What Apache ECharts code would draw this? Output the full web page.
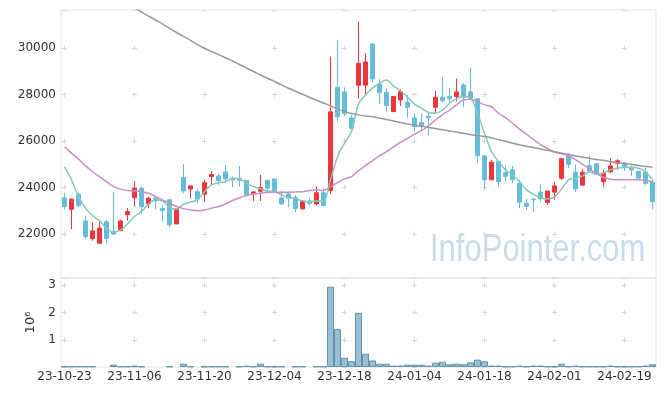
<!DOCTYPE html>
<html><head><meta charset="utf-8">
<script src="https://cdn.jsdelivr.net/npm/echarts@6/dist/echarts.min.js"></script>
<style>html,body{margin:0;padding:0;background:#fff}#c{width:665px;height:396px}</style>
</head><body><div id="c"></div>
<script>
const dates = ['23-10-23','23-10-24','23-10-25','23-10-26','23-10-27','23-10-30','23-10-31','23-11-01','23-11-02','23-11-03',
'23-11-06','23-11-07','23-11-08','23-11-09','23-11-10','23-11-13','23-11-14','23-11-15','23-11-16','23-11-17',
'23-11-20','23-11-21','23-11-22','23-11-23','23-11-24','23-11-27','23-11-28','23-11-29','23-11-30','23-12-01',
'23-12-04','23-12-05','23-12-06','23-12-07','23-12-08','23-12-11','23-12-12','23-12-13','23-12-14','23-12-15',
'23-12-18','23-12-19','23-12-20','23-12-21','23-12-22','23-12-26','23-12-27','23-12-28','24-01-02','24-01-03',
'24-01-04','24-01-05','24-01-08','24-01-09','24-01-10','24-01-11','24-01-12','24-01-15','24-01-16','24-01-17',
'24-01-18','24-01-19','24-01-22','24-01-23','24-01-24','24-01-25','24-01-26','24-01-29','24-01-30','24-01-31',
'24-02-01','24-02-02','24-02-05','24-02-06','24-02-07','24-02-08','24-02-13','24-02-14','24-02-15','24-02-16',
'24-02-19','24-02-20','24-02-21','24-02-22','24-02-23'];
const opens = [23550,23060,23710,22560,21800,21600,22520,22100,22140,22830,23560,23970,23290,23550,23090,23470,22430,24430,23940,23820,
23710,24470,24500,24670,24400,24400,24310,23720,23840,24310,24370,23550,23720,23580,23080,23420,23290,23770,23870,28320,
28120,27000,28410,28410,30190,28460,28100,27270,27770,27670,27000,26810,27070,27460,27890,27920,27920,28420,28120,27820,
25370,24330,25130,24640,24760,24180,23320,23500,23800,23350,23800,24400,25360,24660,24100,24940,25020,24250,24680,25050,
25050,24830,24700,24660,24230];
const closes = [23180,23500,23220,21880,22130,22250,21800,21990,22560,22960,23970,23180,23540,23420,23000,22390,23080,23850,24070,23500,
24210,24560,24300,24370,24330,24300,23680,23810,24000,23970,23810,23290,23540,23090,23420,23320,23770,23220,27260,27050,
27180,26550,29350,29410,28680,28090,27530,27920,28130,27460,26620,26670,27010,27890,27740,27820,28120,27870,27850,25370,
24330,25090,24250,24470,24330,23370,23180,23470,23510,23850,24070,25240,25000,23940,24660,24730,24590,24620,24930,25150,
24900,24760,24400,24180,23390];
const lows = [23060,22200,23150,21800,21710,21600,21600,21990,22140,22570,23180,22850,23110,23060,22530,22270,22430,23750,23540,23320,
23370,24110,24110,24250,24010,24040,23610,23420,23420,23750,23800,23250,23150,22940,23050,23220,23250,23220,23710,26840,
27080,26510,27830,27990,28540,27590,27240,27270,27510,27010,26410,26480,26240,27200,27660,27630,27700,27460,27770,25050,
23900,24330,24040,24250,24180,23110,23030,22940,23390,23240,23470,24330,24830,23820,24100,24620,24580,24010,24620,24760,
24710,24500,24400,24110,23060];
const highs = [23780,23520,23780,22780,22490,22530,22600,23820,22600,23110,24280,24070,23600,23600,23250,23510,23080,25020,24070,23940,
24330,24710,24600,24970,24470,24930,24310,23830,24540,24310,24370,23850,23830,23670,23460,23550,24040,23970,29640,30360,
28320,27130,31150,29790,30190,28680,28280,27950,28230,27990,27200,27200,27200,28160,28780,28300,28690,28490,29180,27820,
25370,25190,25130,24930,24930,24330,23510,23560,24140,23850,24250,25260,25480,25000,24800,25370,25020,24760,25260,25220,
25100,24940,24700,24830,24330];
const volumes = [20000,20000,20000,20000,20000,null,null,85000,20000,20000,50000,20000,null,null,null,20000,null,120000,20000,null,
20000,20000,20000,20000,null,20000,50000,20000,120000,20000,20000,20000,null,20000,20000,null,20000,20000,2950000,1400000,
340000,210000,1990000,490000,240000,120000,120000,50000,50000,85000,85000,85000,50000,160000,195000,100000,120000,100000,170000,270000,
210000,50000,50000,15000,20000,50000,20000,50000,50000,20000,20000,120000,20000,50000,20000,20000,20000,20000,50000,20000,
20000,20000,20000,50000,100000];
const ma5 = [24900,24330,23610,23110,22780,22570,22250,22070,22170,22430,22750,22960,23290,23470,23420,23150,23060,23280,23370,23470,
23820,24110,24210,24250,24400,24370,24180,24040,23940,23850,23820,23680,23580,23510,23420,23390,23420,23390,24330,25330,
25910,26410,27600,27990,28280,28490,28630,28380,28170,27890,27590,27420,27230,27200,27340,27630,27820,27920,27870,27200,
26340,25550,25120,24760,24540,24250,23900,23710,23560,23500,23610,23930,24330,24400,24500,24680,24570,24620,24760,24830,
24860,24870,24830,24680,24330];
const ma20 = [25760,25480,25220,24940,24680,24470,24250,24040,23930,23870,23850,23820,23750,23610,23470,23320,23180,23090,23030,23000,
23030,23110,23180,23290,23440,23560,23650,23720,23750,23800,23800,23800,23800,23810,23820,23870,23900,23870,24040,24210,
24370,24470,24730,24940,25160,25360,25550,25750,25950,26120,26300,26450,26650,26910,27130,27330,27560,27770,27800,27700,
27560,27480,27200,27010,26770,26520,26300,26060,25850,25680,25530,25450,25370,25200,25000,24810,24600,24440,24360,24330,
24330,24330,24330,24310,24250];
const ma60 = [33550,33370,33190,33010,32830,32650,32470,32290,32110,31930,31750,31560,31390,31220,31050,30860,30680,30510,30340,30160,
30000,29860,29730,29590,29450,29300,29150,29000,28850,28710,28570,28420,28280,28150,28020,27890,27760,27640,27520,27390,
27270,27190,27130,27080,27050,26990,26930,26870,26800,26740,26690,26640,26590,26540,26490,26440,26390,26340,26280,26230,
26200,26140,26060,25990,25910,25840,25780,25720,25660,25600,25540,25480,25420,25360,25310,25260,25210,25170,25120,25070,
25030,24990,24950,24910,24870];

const PMIN = 20100, PMAX = 31650, PSTEP = 2000;
const VMAX = 3270000, VSTEP = 1000000;
const G1 = {left: 61, top: 10, width: 595, height: 268};
const G2 = {left: 61, top: 278, width: 595, height: 89};
const CROSS = 5, LBL_EVERY = 10;
const crossColor = '#d8d8d8';

const catW = G1.width / dates.length;
const hPeriod = catW * LBL_EVERY;
const hOffset = ((hPeriod - ((catW / 2 - CROSS / 2) % hPeriod)) + hPeriod) % hPeriod;
function vDash(g, min, max, step) {
  const P = step / (max - min) * g.height;
  const firstTick = Math.ceil(min / step) * step;
  const yT = g.top + (max - firstTick) / (max - min) * g.height;
  const start = yT - CROSS / 2 - g.top;
  const m = ((start % P) + P) % P;
  return {type: [CROSS, P - CROSS], dashOffset: (P - m) % P};
}
const v1 = vDash(G1, PMIN, PMAX, PSTEP);
const v2 = vDash(G2, 0, VMAX, VSTEP);

const candleData = dates.map((d, i) => [opens[i], closes[i], lows[i], highs[i]]);
const labelStyle = {color: '#333', fontSize: 12, fontFamily: 'DejaVu Sans'};

const chart = echarts.init(document.getElementById('c'));
chart.setOption({
  animation: false,
  backgroundColor: '#fff',
  grid: [
    Object.assign({show: true, borderColor: '#e4e4e4', borderWidth: 1}, G1),
    Object.assign({show: true, borderColor: '#e4e4e4', borderWidth: 1}, G2)
  ],
  xAxis: [
    {type: 'category', gridIndex: 0, data: dates, boundaryGap: true,
     axisLine: {show: false}, axisTick: {show: false}, axisLabel: {show: false},
     splitLine: {show: true, interval: LBL_EVERY - 1, alignWithLabel: true,
       lineStyle: {color: crossColor, width: 1, type: v1.type, dashOffset: v1.dashOffset}}},
    {type: 'category', gridIndex: 1, data: dates, boundaryGap: true,
     axisLine: {show: false}, axisTick: {show: false},
     axisLabel: Object.assign({interval: LBL_EVERY - 1, margin: 4}, labelStyle),
     splitLine: {show: true, interval: LBL_EVERY - 1, alignWithLabel: true,
       lineStyle: {color: crossColor, width: 1, type: v2.type, dashOffset: v2.dashOffset}}}
  ],
  yAxis: [
    {type: 'value', gridIndex: 0, min: PMIN, max: PMAX, scale: true,
     axisLine: {show: false}, axisTick: {show: false},
     axisLabel: Object.assign({margin: 5, showMinLabel: false, showMaxLabel: false,
       formatter: v => String(v)}, labelStyle),
     splitLine: {show: true, lineStyle: {color: crossColor, width: 1, type: [CROSS, hPeriod - CROSS], dashOffset: hOffset}}},
    {type: 'value', gridIndex: 1, min: 0, max: VMAX, interval: VSTEP,
     name: '10\u2076', nameLocation: 'middle', nameRotate: 90, nameGap: 24,
     nameTextStyle: {color: '#333', fontSize: 13, fontFamily: 'DejaVu Sans'},
     axisLine: {show: false}, axisTick: {show: false},
     axisLabel: Object.assign({margin: 5, showMinLabel: false, showMaxLabel: false,
       formatter: v => String(v / 1000000)}, labelStyle),
     splitLine: {show: true, lineStyle: {color: crossColor, width: 1, type: [CROSS, hPeriod - CROSS], dashOffset: hOffset}}}
  ],
  graphic: [{
    type: 'text', x: 430, y: 270, scaleY: 1.27, silent: true, z: 0,
    style: {text: 'InfoPointer.com', fill: '#cadde7', textVerticalAlign: 'bottom',
      font: '31px "Liberation Sans", Arial, sans-serif'}
  }],
  series: [
    {type: 'candlestick', name: 'price', xAxisIndex: 0, yAxisIndex: 0, data: candleData, barWidth: 5,
     itemStyle: {color: '#ea373c', color0: '#66bdd7', borderColor: '#ea373c', borderColor0: '#66bdd7', borderWidth: 1}},
    {type: 'line', name: 'MA5', xAxisIndex: 0, yAxisIndex: 0, data: ma5, smooth: 0.3, showSymbol: false,
     lineStyle: {color: '#86c8ba', width: 1.5}, z: 3},
    {type: 'line', name: 'MA20', xAxisIndex: 0, yAxisIndex: 0, data: ma20, smooth: 0.3, showSymbol: false,
     lineStyle: {color: '#c98fc4', width: 1.5}, z: 3},
    {type: 'line', name: 'MA60', xAxisIndex: 0, yAxisIndex: 0, data: ma60, smooth: 0.3, showSymbol: false,
     lineStyle: {color: '#999999', width: 1.5}, z: 3},
    {type: 'bar', name: 'volume', xAxisIndex: 1, yAxisIndex: 1, data: volumes, barCategoryGap: 0, barGap: 0,
     itemStyle: {color: 'rgba(122,170,194,0.75)', borderColor: '#5d93ad', borderWidth: 1}}
  ]
});
</script>
</body></html>
